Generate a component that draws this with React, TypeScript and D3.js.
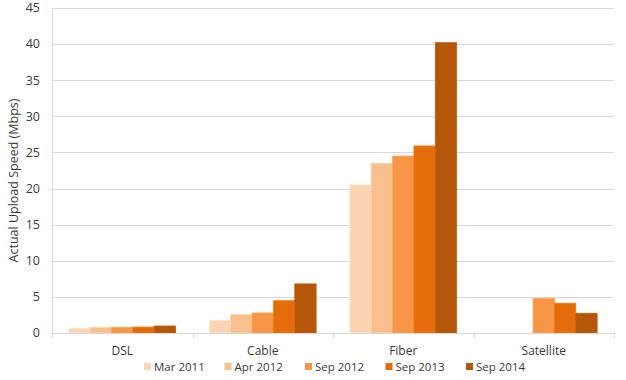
import React, { useEffect, useRef } from "react";
import * as d3 from "d3";

const categories = ["DSL", "Cable", "Fiber", "Satellite"];
const seriesNames = ["Mar 2011", "Apr 2012", "Sep 2012", "Sep 2013", "Sep 2014"];
const colors = ["#FBD4B4", "#FABF8F", "#F79646", "#E46C0A", "#B45709"];
const mar2011 = [0.65, 1.76, 20.5, null];
const apr2012 = [0.78, 2.54, 23.5, null];
const sep2012 = [0.79, 2.77, 24.5, 4.8];
const sep2013 = [0.82, 4.47, 25.9, 4.12];
const sep2014 = [0.97, 6.8, 40.2, 2.73];
const yTicks = [0, 5, 10, 15, 20, 25, 30, 35, 40, 45];
const yTitle = "Actual Upload Speed (Mbps)";

const series = [mar2011, apr2012, sep2012, sep2013, sep2014];

export default function App() {
  const ref = useRef<SVGSVGElement>(null);
  useEffect(() => {
    const svg = d3.select(ref.current);
    svg.selectAll("*").remove();
    const font = "'Open Sans', sans-serif";
    const textColor = "#3a3a3a";
    const left = 52, right = 614, top = 8, bottom = 333;
    const x = d3.scaleBand().domain(categories).range([left, right]).paddingInner(0.24).paddingOuter(0.12);
    const xi = d3.scaleBand().domain(seriesNames).range([0, x.bandwidth()]);
    const y = d3.scaleLinear().domain([0, 45]).range([bottom, top]);

    // gridlines
    svg.append("g").selectAll("line").data(yTicks.filter(t => t > 0)).join("line")
      .attr("x1", left).attr("x2", right)
      .attr("y1", d => Math.round(y(d)) + 0.5).attr("y2", d => Math.round(y(d)) + 0.5)
      .attr("stroke", "#D9D9D9").attr("stroke-width", 1);

    // y tick labels
    svg.append("g").selectAll("text").data(yTicks).join("text")
      .attr("x", 40).attr("y", d => y(d)).attr("dy", "0.35em")
      .attr("text-anchor", "end").attr("font-family", font).attr("font-size", 12.5).attr("fill", textColor)
      .text(d => d);

    // y title
    svg.append("text")
      .attr("transform", `translate(17,${(top + bottom) / 2 + 10}) rotate(-90)`)
      .attr("text-anchor", "middle").attr("font-family", font).attr("font-size", 12.5).attr("fill", textColor)
      .attr("dy", "0.1em")
      .text(yTitle);

    // bars
    const bandStep = x.step();
    series.forEach((vals, si) => {
      svg.append("g").selectAll("rect").data(vals.map((v, ci) => ({ v, c: categories[ci] })).filter(d => d.v != null))
        .join("rect")
        .attr("x", d => (x(d.c) as number) + (xi(seriesNames[si]) as number))
        .attr("width", xi.bandwidth())
        .attr("y", d => y(d.v as number))
        .attr("height", d => bottom - y(d.v as number))
        .attr("fill", colors[si])
        .attr("stroke", d3.color(colors[si])!.brighter(0.25).formatHex())
        .attr("stroke-width", 0.8);
    });

    // axes lines
    svg.append("line").attr("x1", left + 0.5).attr("x2", left + 0.5).attr("y1", top).attr("y2", bottom + 5)
      .attr("stroke", "#D9D9D9");
    svg.append("line").attr("x1", left).attr("x2", right).attr("y1", bottom + 0.5).attr("y2", bottom + 0.5)
      .attr("stroke", "#D9D9D9");
    const bounds = categories.map(c => (x(c) as number) - (bandStep - x.bandwidth()) / 2).concat([right]);
    svg.append("g").selectAll("line").data(bounds).join("line")
      .attr("x1", d => Math.round(d) + 0.5).attr("x2", d => Math.round(d) + 0.5)
      .attr("y1", bottom).attr("y2", bottom + 5).attr("stroke", "#D9D9D9");

    // category labels
    svg.append("g").selectAll("text").data(categories).join("text")
      .attr("x", d => (x(d) as number) + x.bandwidth() / 2).attr("y", 355)
      .attr("text-anchor", "middle").attr("font-family", font).attr("font-size", 12).attr("fill", textColor)
      .text(d => d);

    // legend
    const lg = svg.append("g");
    seriesNames.forEach((s, i) => {
      const lx = 144 + i * 80.5;
      lg.append("rect").attr("x", lx).attr("y", 363).attr("width", 7).attr("height", 7).attr("fill", colors[i]);
      lg.append("text").attr("x", lx + 10).attr("y", 367).attr("dy", "0.35em")
        .attr("font-family", font).attr("font-size", 11.5).attr("fill", textColor).text(s);
    });
  }, []);
  return (
    <svg ref={ref} width={626} height={380} style={{ position: "absolute", left: 0, top: 0, background: "#fff" }} />
  );
}
